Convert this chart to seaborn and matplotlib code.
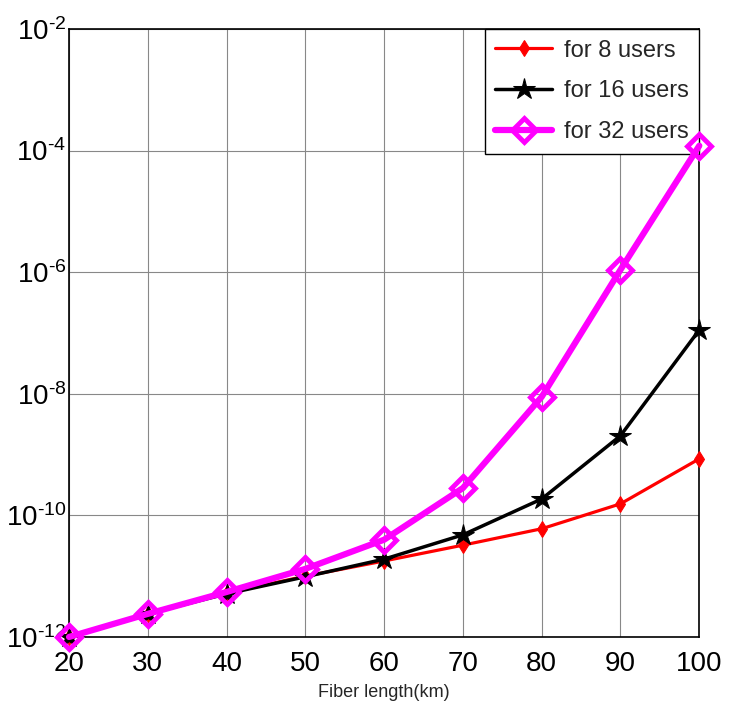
import numpy as np
import pandas as pd
import matplotlib
matplotlib.use('Agg')
import matplotlib.pyplot as plt
import seaborn as sns

sns.set_theme(style="white")
plt.rcParams['font.family'] = ['Liberation Sans', 'DejaVu Sans']
plt.rcParams['mathtext.fontset'] = 'custom'
plt.rcParams['mathtext.rm'] = 'Liberation Sans'
plt.rcParams['mathtext.it'] = 'Liberation Sans'
plt.rcParams['mathtext.default'] = 'regular'

# Data (log10 of BER)
fiber_km = [20, 30, 40, 50, 60, 70, 80, 90, 100]
log_ber_8 = [-12.0, -11.62, -11.28, -11.0, -10.75, -10.49, -10.22, -9.81, -9.07]
log_ber_16 = [-12.0, -11.62, -11.29, -11.01, -10.72, -10.32, -9.73, -8.69, -6.95]
log_ber_32 = [-12.0, -11.62, -11.26, -10.88, -10.40, -9.55, -8.05, -5.96, -3.92]

labels = ['for 8 users', 'for 16 users', 'for 32 users']
series = [log_ber_8, log_ber_16, log_ber_32]
ytick_exp = [-12, -10, -8, -6, -4, -2]

fig = plt.figure(figsize=(7.32, 7.05), dpi=100)
ax = fig.add_axes([0.0943, 0.0965, 0.861, 0.8624])

styles = [
    dict(color='#ff0000', marker='d', markersize=8, linewidth=2.3, mfc='#ff0000', mec='#ff0000'),
    dict(color='black', marker='*', markersize=16, linewidth=2.5, mfc='black', mec='black'),
    dict(color='#ff00ff', marker='D', markersize=12, linewidth=4.5, mfc='none', mec='#ff00ff', mew=3.5),
]

for lab, vals, st in zip(labels, series, styles):
    df = pd.DataFrame({'x': fiber_km, 'ber': 10.0 ** np.array(vals)})
    sns.lineplot(data=df, x='x', y='ber', ax=ax, label=lab, zorder=4, clip_on=False, **st)

ax.set_yscale('log')
ax.set_xlim(20, 100)
ax.set_ylim(1e-12, 1e-2)
ax.set_xticks(fiber_km)
ax.set_yticks([10.0 ** e for e in ytick_exp])
ax.set_yticklabels([r'$10^{\text{%d}}$' % e for e in ytick_exp])
ax.minorticks_off()
ax.tick_params(axis='both', labelsize=20, direction='in', length=5, color='black', labelcolor='black')
ax.tick_params(axis='x', pad=10)
ax.tick_params(axis='y', pad=2)
ax.grid(True, color='#888888', linewidth=0.8)
for sp in ax.spines.values():
    sp.set_color('black')
    sp.set_linewidth(1.2)

ax.set_xlabel('Fiber length(km)', fontsize=13, labelpad=5)
ax.set_ylabel('')

leg = ax.legend(loc='upper right', fontsize=17, frameon=True, fancybox=False,
                edgecolor='black', framealpha=1, borderaxespad=0.0,
                handlelength=2.4, labelspacing=0.8, borderpad=0.45, handletextpad=0.5)
leg.get_frame().set_linewidth(1.0)
leg.set_zorder(3)

fig.savefig('out.png', dpi=100)
